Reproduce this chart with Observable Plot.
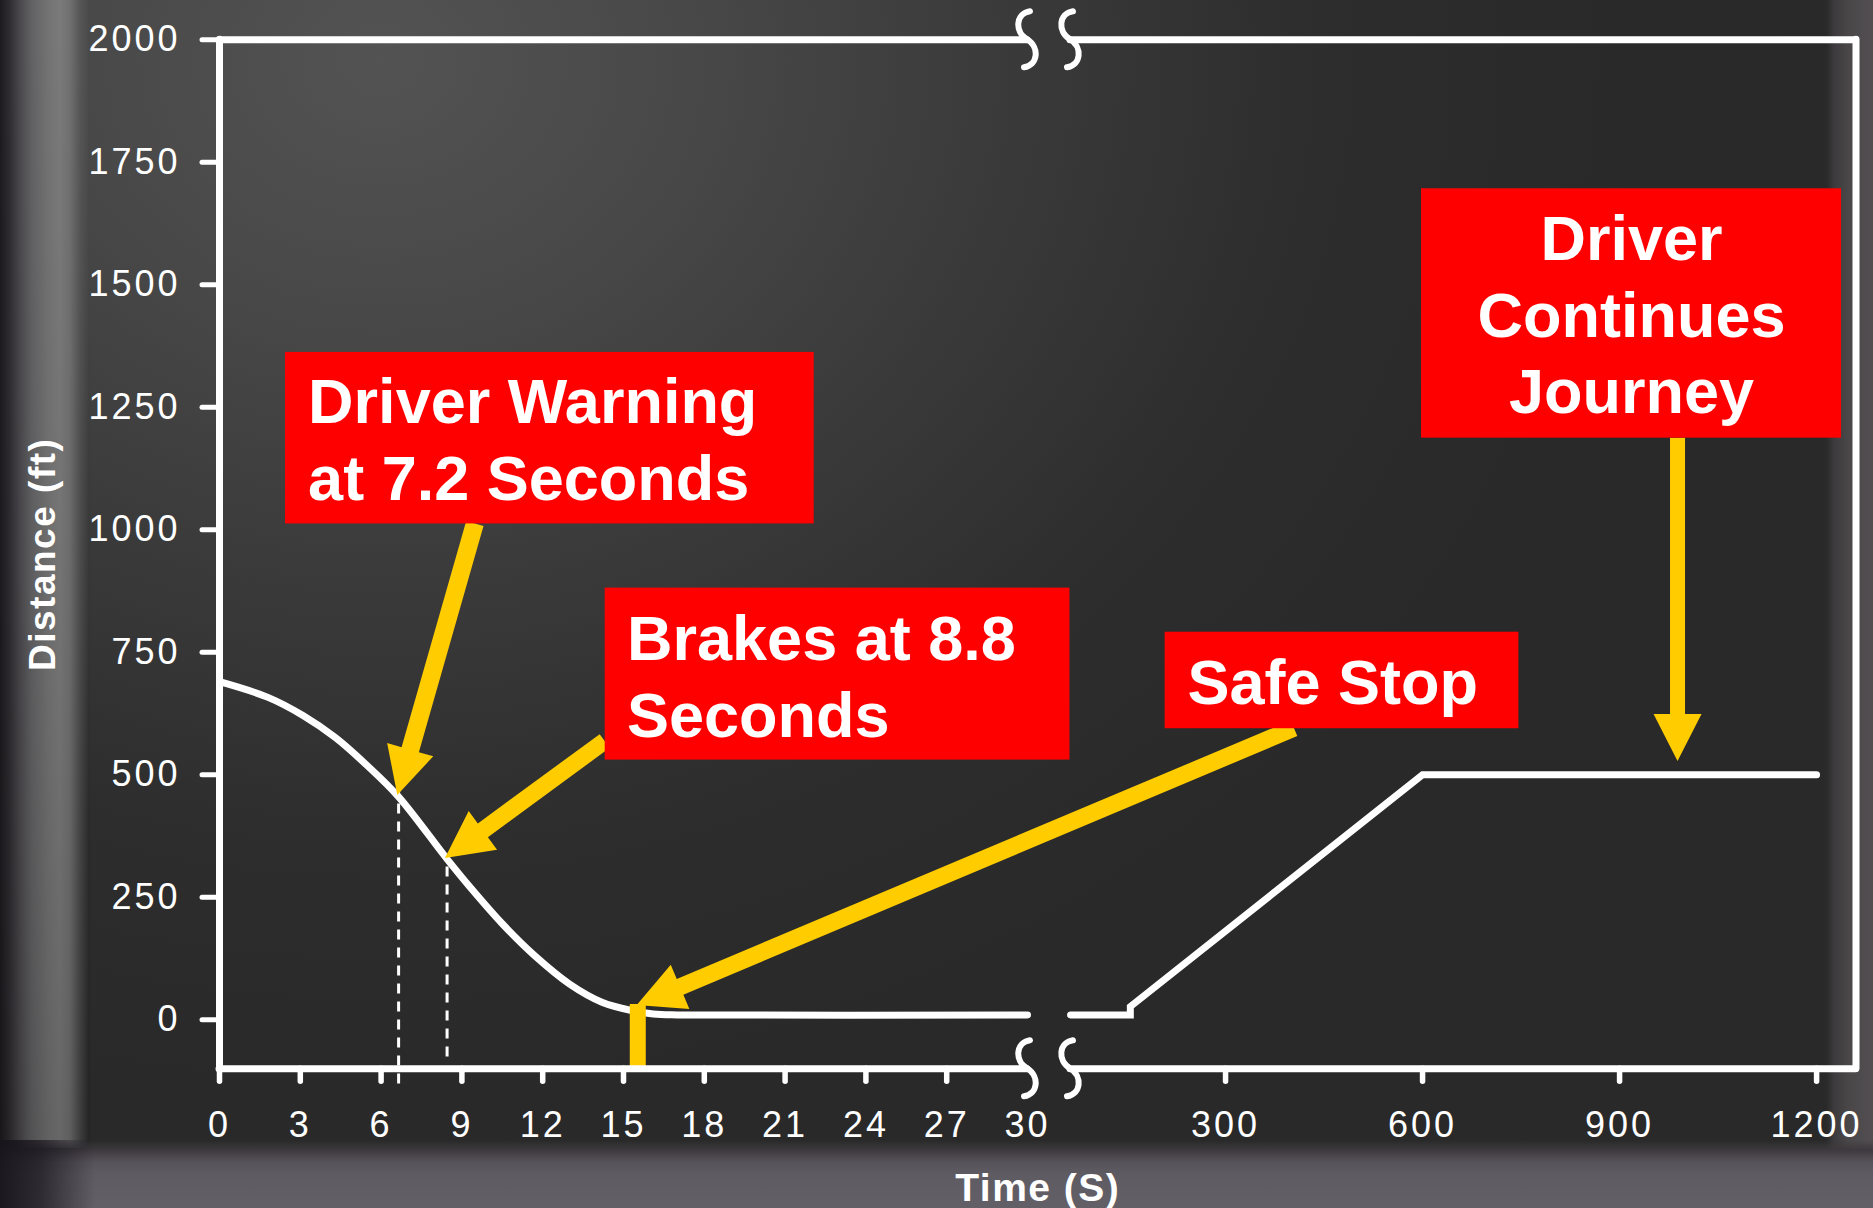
<!DOCTYPE html>
<html>
<head>
<meta charset="utf-8">
<script src="https://cdn.jsdelivr.net/npm/d3@7"></script>
<script src="https://cdn.jsdelivr.net/npm/@observablehq/plot@0.6"></script>
<style>
  html, body { margin: 0; padding: 0; background: #2a2a2a; }
  #stage { position: relative; width: 1873px; height: 1208px; overflow: hidden; }
  .layer { position: absolute; }
  #bg { left: 0; top: 0; width: 1873px; height: 1208px;
        background: radial-gradient(ellipse 1250px 1050px at 380px 60px, #535353 0%, #484848 25%, #3a3a3a 50%, #2d2d2d 75%, #292929 100%); }
  #pillar { left: 0; top: 0; width: 90px; height: 1148px; border-bottom-right-radius: 10px;
        background:
          linear-gradient(to bottom, rgba(0,0,0,0) 0%, rgba(0,0,0,0.05) 50%, rgba(0,0,0,0.16) 100%),
          linear-gradient(to right, #1c1a1e 0px, #2d2b2f 9px, #4a484c 20px, #626264 32px, #737373 48px, #7a7a7a 60px, #707070 70px, rgba(96,96,96,0.6) 80px, rgba(80,80,80,0) 90px); }
  #rightStrip { left: 1826px; top: 0; width: 47px; height: 1208px;
        background: linear-gradient(to right, rgba(43,43,43,0) 0px, #3c3a3c 8px, #4a4749 22px, #524e51 47px); }
  #bottomStrip { left: 0; top: 1140px; width: 1873px; height: 68px;
        background:
          linear-gradient(to right, rgba(24,20,28,0.95) 0px, rgba(24,20,28,0.7) 40px, rgba(24,20,28,0) 95px),
          linear-gradient(to bottom, rgba(42,42,42,0) 0px, #3d393e 10px, #57535a 22px, #5f5b62 35px, #635f66 68px); }
  #chart { left: 0; top: 0; width: 1873px; height: 1208px; }
  #chart svg { position: absolute; left: 0; top: 0; }
  g[aria-label="x-axis tick label"] text, g[aria-label="y-axis tick label"] text { letter-spacing: 3px; }
</style>
</head>
<body>
<div id="stage">
  <div class="layer" id="bg"></div>
  <div class="layer" id="pillar"></div>
  <div class="layer" id="rightStrip"></div>
  <div class="layer" id="bottomStrip"></div>
  <div class="layer" id="chart"></div>
</div>
<script>
// ---------- Data ----------
// Approach: distance to obstacle (ft) versus time (s)
const approachTime = [0, 1.8, 3.1, 4.3, 5.5, 6.65, 8.45, 9.3, 10.5, 11.7, 13, 14.2, 15.3, 16.1, 17, 30];
const approachDist = [690, 658, 621, 576, 518, 455, 328, 271, 196, 131, 73, 36, 19, 12, 10, 10];
// After the break: driver continues journey
const resumeTime = [64, 155, 155, 600, 1200];
const resumeDist = [10, 10, 27, 500, 500];

// Axis ticks
const yTicks = [0, 250, 500, 750, 1000, 1250, 1500, 1750, 2000];
const xTickLabels = [0, 3, 6, 9, 12, 15, 18, 21, 24, 27, 30, 300, 600, 900, 1200];
const xTickMarks = [0, 3, 6, 9, 12, 15, 18, 21, 24, 27, 300, 600, 900, 1200];

// Axis break (time axis is broken between 30 s and the long-range part)
const breakTimes = [30, 63.9];
const frameLevels = [2000, -100];
const frameSegStart = [0, 63.9];
const frameSegEnd = [30, 1260];

// Event markers (dashed drop lines)
const markerTime = [6.65, 8.45];
const markerTop = [522, 329];
const markerBottom = [-131, -76];

// Safe stop marker
const stopTime = 15.53;
const stopTop = 31;

// Annotation callouts
const noteText = ["Driver Warning\nat 7.2 Seconds", "Brakes at 8.8\nSeconds", "Safe Stop", "Driver\nContinues\nJourney"];
const noteLeft = [2.45, 14.32, 208, 598.4];
const noteRight = [22.08, 63.1, 746.7, 1238];
const noteTop = [1362, 881, 791, 1696];
const noteBottom = [1012, 530, 594, 1187];
const noteTextTime = [3.29, 15.13, 241.9, 918.2];
const noteTextDist = [1061, 577, 645.5, 1237.6];

// Arrows from callouts to the curve
const arrowFromTime = [9.5, 14.32, 405, 989];
const arrowFromDist = [1012, 568, 594, 1187];
const arrowToTime = [6.62, 8.39, 15.51, 989];
const arrowToDist = [458, 329, 29, 527];

// ---------- Styles ----------
const WHITE = "#ffffff";
const YELLOW = "#ffcc00";
const RED = "#ff0000";
const shaftWidth = [18, 17, 17, 15];
const headLength = 47;
const headWidth = 48;
const FONT = "'Liberation Sans', Arial, Helvetica, sans-serif";

// ---------- Derived tables ----------
const approach = approachTime.map((t, i) => ({t, d: approachDist[i]}));
const resume = resumeTime.map((t, i) => ({t, d: resumeDist[i]}));
const markers = markerTime.map((t, i) => ({t, top: markerTop[i], bottom: markerBottom[i]}));
const notes = noteText.map((text, i) => ({
  text, x1: noteLeft[i], x2: noteRight[i], y1: noteTop[i], y2: noteBottom[i],
  tx: noteTextTime[i], ty: noteTextDist[i]
}));
const arrows = arrowFromTime.map((t, i) => ({
  x1: t, y1: arrowFromDist[i], x2: arrowToTime[i], y2: arrowToDist[i], w: shaftWidth[i]
}));
const frameSegs = [];
for (const level of frameLevels) for (let i = 0; i < frameSegStart.length; i++)
  frameSegs.push({y: level, x1: frameSegStart[i], x2: frameSegEnd[i]});

// Custom mark: filled block arrows (computed in screen space via the scales)
function arrowMark(data) {
  return (index, scales) => {
    const g = d3.create("svg:g").attr("aria-label", "arrows");
    for (const a of data) {
      const x1 = scales.x(a.x1), y1 = scales.y(a.y1), x2 = scales.x(a.x2), y2 = scales.y(a.y2);
      const dx = x2 - x1, dy = y2 - y1, len = Math.hypot(dx, dy);
      const ux = dx / len, uy = dy / len, nx = -uy, ny = ux;
      const w = a.w / 2, W = headWidth / 2;
      const bx = x2 - ux * headLength, by = y2 - uy * headLength;
      const pts = [
        [x1 + nx * w, y1 + ny * w], [bx + nx * w, by + ny * w], [bx + nx * W, by + ny * W],
        [x2, y2],
        [bx - nx * W, by - ny * W], [bx - nx * w, by - ny * w], [x1 - nx * w, y1 - ny * w]
      ];
      g.append("path").attr("d", "M" + pts.map(p => p.join(",")).join("L") + "Z").attr("fill", YELLOW);
    }
    return g.node();
  };
}

// Custom mark: S-shaped axis-break symbols
function breakMark() {
  return (index, scales) => {
    const g = d3.create("svg:g").attr("aria-label", "axis breaks");
    for (const t of breakTimes) for (const level of frameLevels) {
      const cx = scales.x(t), cy = scales.y(level);
      g.append("path")
        .attr("d", `M${cx + 3},${cy - 28} C${cx - 11},${cy - 26} ${cx - 13},${cy - 8} ${cx},${cy} C${cx + 13},${cy + 8} ${cx + 11},${cy + 26} ${cx - 3},${cy + 28}`)
        .attr("fill", "none").attr("stroke", WHITE).attr("stroke-width", 6).attr("stroke-linecap", "round");
    }
    return g.node();
  };
}

const chart = Plot.plot({
  width: 1873,
  height: 1208,
  marginTop: 39.3,
  marginBottom: 139.7,
  marginLeft: 219,
  marginRight: 17.5,
  style: {background: "transparent", color: WHITE, fontFamily: FONT, maxWidth: "none", overflow: "visible"},
  x: {type: "linear", domain: [0, 30, 40, 1260], range: [219, 1027, 1054.3, 1855.5]},
  y: {type: "linear", domain: [-100, 2000]},
  marks: [
    // dashed drop lines
    Plot.ruleX(markers, {x: "t", y1: "bottom", y2: "top", stroke: WHITE, strokeWidth: 3, strokeDasharray: "10,8"}),
    // curves
    Plot.line(approach, {x: "t", y: "d", curve: "catmull-rom", stroke: WHITE, strokeWidth: 7, strokeLinecap: "round"}),
    Plot.line(resume, {x: "t", y: "d", curve: "linear", stroke: WHITE, strokeWidth: 7, strokeLinecap: "round", strokeLinejoin: "miter", strokeMiterlimit: 4}),
    // safe-stop bar
    Plot.ruleX([stopTime], {x: d => d, y1: -100, y2: stopTop, stroke: YELLOW, strokeWidth: 16}),
    // frame with breaks
    Plot.ruleX([0, 1260], {x: d => d, stroke: WHITE, strokeWidth: 7, strokeLinecap: "round"}),
    Plot.ruleY(frameSegs, {y: "y", x1: "x1", x2: "x2", stroke: WHITE, strokeWidth: 7, strokeLinecap: "round"}),
    // axes
    Plot.axisY(yTicks, {anchor: "left", tickSize: 17, tickPadding: 22, strokeWidth: 5, strokeLinecap: "round",
      fontSize: 36, label: null, tickFormat: d => String(d)}),
    Plot.axisX(xTickMarks, {anchor: "bottom", tickSize: 13, strokeWidth: 5.5, strokeLinecap: "round", fill: null, label: null}),
    Plot.axisX(xTickLabels, {anchor: "bottom", tickSize: 0, tickPadding: 43, fontSize: 36, label: null, tickFormat: d => String(d)}),
    // axis titles
    Plot.text(["Distance (ft)"], {frameAnchor: "left", text: d => d, rotate: -90, dx: -165, textAnchor: "middle", lineAnchor: "bottom",
      fontSize: 37, fontWeight: "bold", fill: WHITE}),
    Plot.text(["Time (S)"], {frameAnchor: "bottom", text: d => d, dy: 131.7, textAnchor: "middle", lineAnchor: "bottom",
      fontSize: 39, fontWeight: "bold", fill: WHITE}),
    // arrows
    arrowMark(arrows),
    // callout boxes
    Plot.rect(notes, {x1: "x1", x2: "x2", y1: "y1", y2: "y2", fill: RED}),
    Plot.text(notes.slice(0, 3), {x: "tx", y: "ty", text: "text", textAnchor: "start", lineAnchor: "bottom",
      lineHeight: 1.216, fontSize: 63, fontWeight: "bold", fill: WHITE}),
    Plot.text(notes.slice(3), {x: "tx", y: "ty", text: "text", textAnchor: "middle", lineAnchor: "bottom",
      lineHeight: 1.216, fontSize: 63, fontWeight: "bold", fill: WHITE}),
    // axis-break symbols
    breakMark()
  ]
});

d3.select(chart).selectAll("text")
  .filter(function () { return this.textContent === "Time (S)" || this.textContent === "Distance (ft)"; })
  .attr("letter-spacing", "1.5px");

document.getElementById("chart").appendChild(chart);
</script>
</body>
</html>
